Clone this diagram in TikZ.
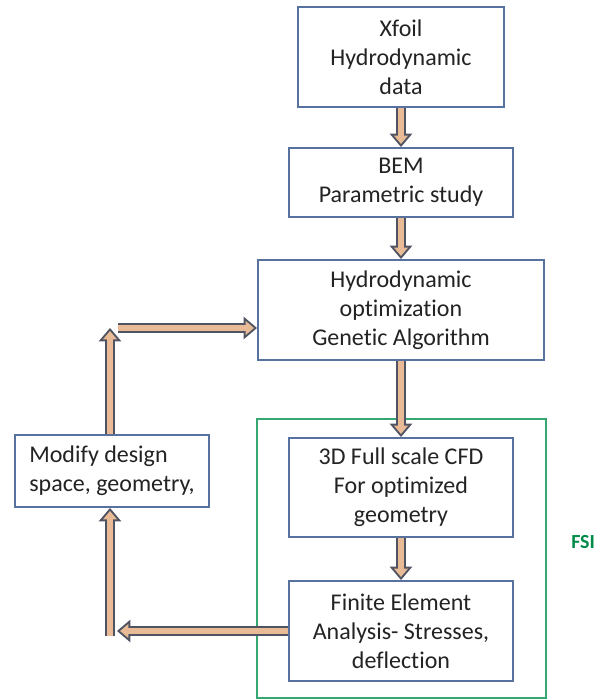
\documentclass[tikz,border=0pt]{standalone}
\usepackage{fontspec}
\setmainfont{Carlito}[Ligatures=CommonOff]
\usepackage{xcolor}
\usepackage{tikz}
\usetikzlibrary{arrows.meta}

\definecolor{boxline}{RGB}{88,114,160}
\definecolor{arrowline}{RGB}{80,84,98}
\definecolor{arrowfill}{RGB}{232,186,150}
\definecolor{fsigreen}{RGB}{52,168,112}
\definecolor{fsitext}{RGB}{0,140,72}
\definecolor{boxtext}{RGB}{35,35,35}

\tikzset{
  stepbox/.style={draw=boxline, line width=1.5pt, fill=white, align=center, text=boxtext,
    font=\fontsize{18}{21.75}\selectfont, inner sep=2pt},
  fsiframe/.style={draw=fsigreen, line width=1.5pt},
  fsilabel/.style={text=fsitext, font=\fontsize{15}{18}\selectfont\bfseries, inner sep=0pt},
  flowarrow/.style={arrowline, line width=7.5pt, -{Triangle[length=10pt,width=17pt,line width=0pt]},
    postaction={draw=arrowfill, line width=4.5pt, shorten >=2.3pt,
      -{Triangle[length=6.2pt,width=10.5pt,line width=0pt]}}},
}

\begin{document}
\begin{tikzpicture}[x=0.75pt,y=0.75pt,yscale=-1,xscale=1]

\useasboundingbox (0,0) rectangle (600,700);

% FSI frame
\node [fsiframe, minimum width=216.75pt, minimum height=209.25pt] (fsibox) at (401.5,558.5) {};
\node [fsilabel, anchor=west] (fsi) at (571,542) {FSI};

% boxes
\node [stepbox, minimum width=154.5pt, minimum height=75pt] (xfoil) at (401,57) {Xfoil\\Hydrodynamic\\data};
\node [stepbox, minimum width=168pt, minimum height=51.75pt] (bem) at (401,182.5) {BEM\\Parametric study};
\node [stepbox, minimum width=214.5pt, minimum height=75pt] (hopt) at (401,310) {Hydrodynamic\\optimization\\Genetic Algorithm};
\node [stepbox, minimum width=168pt, minimum height=74.25pt] (cfd) at (401,487.5) {3D Full scale CFD\\For optimized\\geometry};
\node [stepbox, minimum width=168pt, minimum height=75pt] (fea) at (401,631) {Finite Element\\Analysis- Stresses,\\deflection};
\node [stepbox, minimum width=145.5pt, minimum height=54pt, align=left] (modify) at (112,471) {Modify design\\space, geometry,};

% loop corners
\coordinate (loopin) at (117,631);
\coordinate (loopfoot) at (110,636);
\coordinate (looptop) at (110,328);
\coordinate (loopout) at (118,328);

% arrows
\draw [flowarrow] (xfoil) -- (bem);
\draw [flowarrow] (bem) -- (hopt);
\draw [flowarrow] (hopt) -- (cfd);
\draw [flowarrow] (cfd) -- (fea);
\draw [flowarrow] (loopfoot) -- (modify.south -| loopfoot);
\draw [flowarrow] (fea.west) -- (loopin);
\draw [flowarrow] (modify.north -| loopfoot) -- (looptop);
\draw [flowarrow] (loopout) -- (loopout -| hopt.west);

\end{tikzpicture}
\end{document}
